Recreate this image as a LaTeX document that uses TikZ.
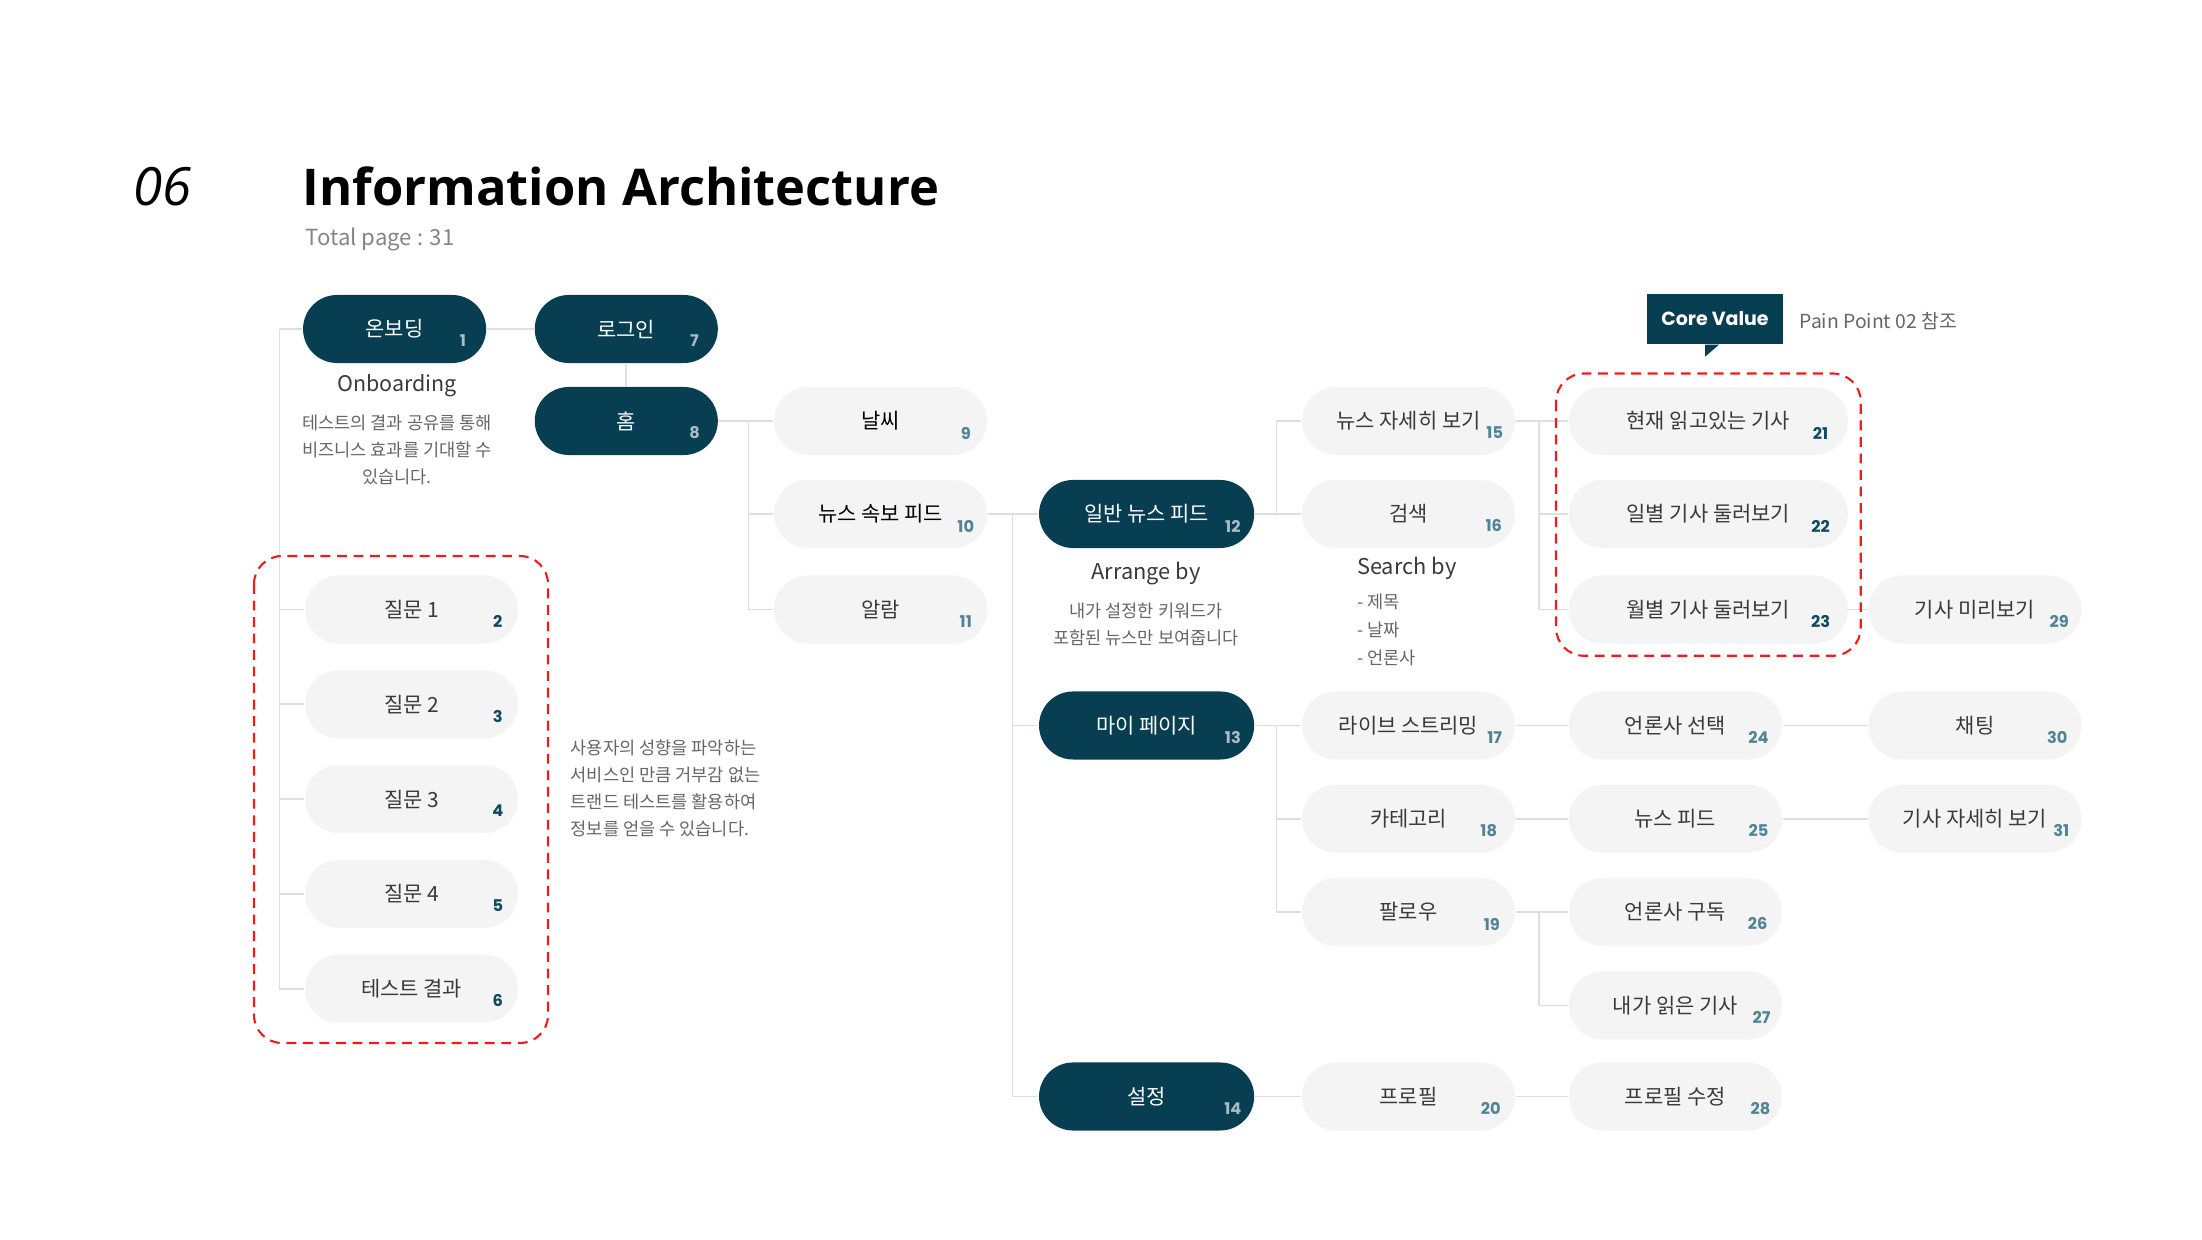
\documentclass[tikz,border=0pt]{standalone}
\usepackage{fontspec}
\setmainfont{Noto Sans CJK KR}
\newfontfamily\titlefont{Open Sans}
\newfontfamily\numfont{Poppins}
\definecolor{iadark}{HTML}{073E52}
\definecolor{iagray}{HTML}{F4F4F4}
\definecolor{iatext}{HTML}{3A3A3A}
\definecolor{ialine}{HTML}{DEDEDE}
\definecolor{iared}{HTML}{EE1C1C}
\definecolor{ianum}{HTML}{4F8497}
\definecolor{iateal}{HTML}{0E4A62}
\definecolor{ianumd}{HTML}{A9BCC4}
\definecolor{iasub}{HTML}{666666}

\begin{document}
\begin{tikzpicture}[
  x=0.01cm, y=-0.01cm,
  every node/.style={inner sep=0pt},
  dark/.style={fill=iadark,rounded corners=0.34cm,minimum height=0.68cm,minimum width=1.83cm,text=white,font=\fontsize{5.95}{7}\selectfont},
  pg/.style={fill=iagray,rounded corners=0.34cm,minimum height=0.68cm,minimum width=2.13cm,text=iatext,font=\fontsize{5.95}{7}\selectfont},
  wide/.style={minimum width=2.79cm},
  num/.style={font=\numfont\bfseries\fontsize{4.6}{5}\selectfont,text=ianum},
  numd/.style={num,text=ianumd},
  numk/.style={num,text=iateal},
  note/.style={text=iasub,font=\fontsize{5}{7.7}\selectfont},
  link/.style={draw=ialine,line width=0.55pt},
  zone/.style={draw=iared,line width=0.6pt,dash pattern=on 2.8pt off 1.9pt,rounded corners=0.28cm}
]
  \useasboundingbox (0,0) rectangle (2202,1240);
  \fill[white] (0,0) rectangle (2202,1240);

  % header
  \node[anchor=base west,font=\titlefont\itshape\fontsize{15}{16}\selectfont] (sec) at (133,206) {06};
  \node[anchor=base west,font=\titlefont\bfseries\fontsize{14.4}{16}\selectfont] (title) at (302,206) {Information Architecture};
  \node[anchor=base west,text=iasub!80,font=\fontsize{6.3}{7}\selectfont] (total) at (305,246) {Total page : 31};

  % onboarding
  \node[dark] (onb)   at (394.6,329) {온보딩};
  \node[dark] (login) at (626.3,329) {로그인};
  \node[dark] (home)  at (626.3,421) {홈};
  \node[text=iatext,font=\fontsize{6.1}{7}\selectfont] (onbt) at (397,386) {Onboarding};
  \node[note,align=center] (onbd) at (397,450) {테스트의 결과 공유를 통해\\비즈니스 효과를 기대할 수\\있습니다.};

  % test questions
  \node[pg] (q1) at (411.5,609.5) {질문 1};
  \node[pg] (q2) at (411.5,704.3) {질문 2};
  \node[pg] (q3) at (411.5,799.1) {질문 3};
  \node[pg] (q4) at (411.5,893.9) {질문 4};
  \node[pg] (q5) at (411.5,988.7) {테스트 결과};
  \node[note,align=left,anchor=west] (testd) at (570,788.5) {사용자의 성향을 파악하는\\서비스인 만큼 거부감 없는\\트랜드 테스트를 활용하여\\정보를 얻을 수 있습니다.};

  % home children
  \node[pg,text=black] (weather)  at (880.5,421) {날씨};
  \node[pg,text=black] (breaking) at (880.5,514) {뉴스 속보 피드};
  \node[pg] (alarm) at (880.5,609.5) {알람};

  % main menus
  \node[dark,minimum width=2.15cm] (gen) at (1146.6,514) {일반 뉴스 피드};
  \node[dark,minimum width=2.15cm] (my)  at (1146.6,725.5) {마이 페이지};
  \node[dark,minimum width=2.15cm] (set) at (1146.6,1096.5) {설정};
  \node[text=iatext,font=\fontsize{6.2}{7}\selectfont] (arrt) at (1146,574) {Arrange by};
  \node[note,align=center] (arrd) at (1146,624.5) {내가 설정한 키워드가\\포함된 뉴스만 보여줍니다};

  % third level
  \node[pg] (detail)  at (1408.5,421) {뉴스 자세히 보기};
  \node[pg] (search)  at (1408.5,514) {검색};
  \node[pg] (live)    at (1408.5,725.5) {라이브 스트리밍};
  \node[pg] (cat)     at (1408.5,818.7) {카테고리};
  \node[pg] (follow)  at (1408.5,912) {팔로우};
  \node[pg] (profile) at (1408.5,1096.5) {프로필};
  \node[anchor=west,text=iatext,font=\fontsize{6.2}{7}\selectfont] (srcht) at (1356.5,568.7) {Search by};
  \node[note,align=left,anchor=west,font=\fontsize{5}{7.85}\selectfont] (srchd) at (1356.5,630) {- 제목\\- 날짜\\- 언론사};

  % fourth level
  \node[pg,wide] (now)     at (1708.3,421) {현재 읽고있는 기사};
  \node[pg,wide] (daily)   at (1708.3,514) {일별 기사 둘러보기};
  \node[pg,wide] (monthly) at (1708.3,609.5) {월별 기사 둘러보기};
  \node[pg] (press) at (1675.3,725.5) {언론사 선택};
  \node[pg] (feed)  at (1675.3,818.7) {뉴스 피드};
  \node[pg] (sub)   at (1675.3,912) {언론사 구독};
  \node[pg] (read)  at (1675.3,1005.5) {내가 읽은 기사};
  \node[pg] (edit)  at (1675.3,1096.5) {프로필 수정};

  % fifth level
  \node[pg] (preview) at (1975,609.5) {기사 미리보기};
  \node[pg] (chat)    at (1975,725.5) {채팅};
  \node[pg] (article) at (1975,818.7) {기사 자세히 보기};

  % core value callout
  \node[fill=iadark,minimum width=1.36cm,minimum height=0.5cm,text=white,font=\numfont\bfseries\fontsize{5.4}{6}\selectfont] (cv) at (1715,319) {Core Value};
  \fill[iadark] ([shift={(-10,0)}]cv.south) -- ([shift={(4,0)}]cv.south) -- ([shift={(-10,12)}]cv.south) -- cycle;
  \node[anchor=west,text=iasub,font=\fontsize{5.5}{6}\selectfont] (pp) at (1799,321) {Pain Point 02 참조};

  % page numbers
  \node[numd] (n1)  at ([shift={(-24,12)}]onb.east) {1};
  \node[numk] (n2)  at ([shift={(-21,12)}]q1.east) {2};
  \node[numk] (n3)  at ([shift={(-21,12)}]q2.east) {3};
  \node[numk] (n4)  at ([shift={(-21,12)}]q3.east) {4};
  \node[numk] (n5)  at ([shift={(-21,12)}]q4.east) {5};
  \node[numk] (n6)  at ([shift={(-21,12)}]q5.east) {6};
  \node[numd] (n7)  at ([shift={(-24,12)}]login.east) {7};
  \node[numd] (n8)  at ([shift={(-24,12)}]home.east) {8};
  \node[num]  (n9)  at ([shift={(-22,12)}]weather.east) {9};
  \node[num]  (n10) at ([shift={(-22,12)}]breaking.east) {10};
  \node[num]  (n11) at ([shift={(-22,12)}]alarm.east) {11};
  \node[numd] (n12) at ([shift={(-22,12)}]gen.east) {12};
  \node[numd] (n13) at ([shift={(-22,12)}]my.east) {13};
  \node[numd] (n14) at ([shift={(-22,12)}]set.east) {14};
  \node[num]  (n15) at ([shift={(-21,12)}]detail.east) {15};
  \node[num]  (n16) at ([shift={(-22,12)}]search.east) {16};
  \node[num]  (n17) at ([shift={(-21,12)}]live.east) {17};
  \node[num]  (n18) at ([shift={(-27,12)}]cat.east) {18};
  \node[num]  (n19) at ([shift={(-24,12)}]follow.east) {19};
  \node[num]  (n20) at ([shift={(-25,12)}]profile.east) {20};
  \node[numk] (n21) at ([shift={(-28,12)}]now.east) {21};
  \node[numk] (n22) at ([shift={(-28,12)}]daily.east) {22};
  \node[numk] (n23) at ([shift={(-28,12)}]monthly.east) {23};
  \node[num]  (n24) at ([shift={(-24,12)}]press.east) {24};
  \node[num]  (n25) at ([shift={(-24,12)}]feed.east) {25};
  \node[num]  (n26) at ([shift={(-25,12)}]sub.east) {26};
  \node[num]  (n27) at ([shift={(-21,12)}]read.east) {27};
  \node[num]  (n28) at ([shift={(-22,12)}]edit.east) {28};
  \node[num]  (n29) at ([shift={(-23,12)}]preview.east) {29};
  \node[num]  (n30) at ([shift={(-25,12)}]chat.east) {30};
  \node[num]  (n31) at ([shift={(-21,12)}]article.east) {31};

  % junctions
  \coordinate (j0) at (279.5,329);
  \coordinate (j1) at (748.5,421);
  \coordinate (j2) at (1012.5,514);
  \coordinate (j3) at (1276.5,514);
  \coordinate (j4) at (1276.5,725.5);
  \coordinate (j5) at (1539,421);
  \coordinate (j6) at (1539,912);

  % links
  \draw[link] (onb.west) -- (j0);
  \draw[link] (j0) |- (q1.west);
  \draw[link] (j0) |- (q2.west);
  \draw[link] (j0) |- (q3.west);
  \draw[link] (j0) |- (q4.west);
  \draw[link] (j0) |- (q5.west);
  \draw[link] (onb.east) -- (login.west);
  \draw[link] (login.south) -- (home.north);
  \draw[link] (home.east) -- (weather.west);
  \draw[link] (j1) |- (breaking.west);
  \draw[link] (j1) |- (alarm.west);
  \draw[link] (breaking.east) -- (gen.west);
  \draw[link] (j2) |- (my.west);
  \draw[link] (j2) |- (set.west);
  \draw[link] (gen.east) -- (search.west);
  \draw[link] (j3) |- (detail.west);
  \draw[link] (my.east) -- (live.west);
  \draw[link] (j4) |- (cat.west);
  \draw[link] (j4) |- (follow.west);
  \draw[link] (set.east) -- (profile.west);
  \draw[link] (detail.east) -- (now.west);
  \draw[link] (j5) |- (daily.west);
  \draw[link] (j5) |- (monthly.west);
  \draw[link] (live.east) -- (press.west);
  \draw[link] (cat.east) -- (feed.west);
  \draw[link] (follow.east) -- (sub.west);
  \draw[link] (j6) |- (read.west);
  \draw[link] (profile.east) -- (edit.west);
  \draw[link] (monthly.east) -- (preview.west);
  \draw[link] (press.east) -- (chat.west);
  \draw[link] (feed.east) -- (article.west);

  % highlighted groups
  \draw[zone] (254,556) rectangle (548,1043);
  \draw[zone] (1556,373.5) rectangle (1860.7,655.8);
\end{tikzpicture}
\end{document}
